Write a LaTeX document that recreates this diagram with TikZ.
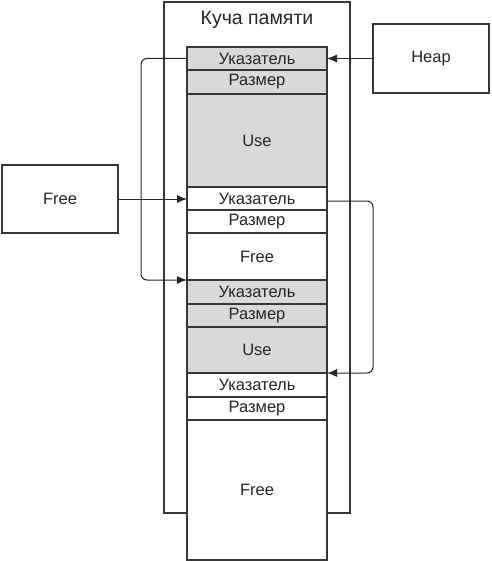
\documentclass[tikz,border=0pt]{standalone}
\usepackage{fontspec}
\setmainfont{Liberation Sans}
\usetikzlibrary{arrows.meta}
\definecolor{cellgray}{RGB}{217,217,217}
\definecolor{linegray}{RGB}{55,55,55}
\begin{document}
\begin{tikzpicture}[x=1pt,y=-1pt,
  cell/.style={draw=linegray,line width=1.2pt,minimum width=140pt,inner sep=0pt,outer sep=0pt,font=\fontsize{16.5}{18}\selectfont,text=black!85},
  used/.style={cell,fill=cellgray},
  freec/.style={cell,fill=white},
  sidebox/.style={draw=linegray,line width=1.2pt,fill=white,inner sep=0pt,outer sep=0pt,font=\fontsize{16.5}{18}\selectfont,text=black!85},
  link/.style={draw=black!85,line width=1pt,-{Latex[length=10pt,width=8pt]},rounded corners=6pt}]
\useasboundingbox (0,0) rectangle (491,561);
\fill[white] (0,0) rectangle (491,561);
% outer heap box
\node[draw=linegray,line width=1.2pt,minimum width=186pt,minimum height=511pt,inner sep=0pt,outer sep=0pt] (heapbox) at (257,257.5) {};
\node[font=\fontsize{19.5}{21}\selectfont,text=black!85] (title) at (257,20) {Куча памяти};
% column
\node[used,minimum height=23pt] (p1) at (257,58.5) {Указатель};
\node[used,minimum height=24pt] (s1) at (257,82) {Размер};
\node[used,minimum height=93pt] (u1) at (257,140.5) {Use};
\node[freec,minimum height=23pt] (p2) at (257,198.5) {Указатель};
\node[freec,minimum height=23pt] (s2) at (257,221.5) {Размер};
\node[freec,minimum height=47pt] (f1) at (257,256.5) {Free};
\node[used,minimum height=24pt] (p3) at (257,292) {Указатель};
\node[used,minimum height=23pt] (s3) at (257,315.5) {Размер};
\node[used,minimum height=46pt] (u2) at (257,350) {Use};
\node[freec,minimum height=24pt] (p4) at (257,385) {Указатель};
\node[freec,minimum height=23pt] (s4) at (257,408.5) {Размер};
\node[freec,minimum height=140pt] (f2) at (257,490) {Free};
% side boxes
\node[sidebox,minimum width=116pt,minimum height=69pt] (heap) at (431,58.5) {Heap};
\node[sidebox,minimum width=116pt,minimum height=68pt] (free) at (60,199) {Free};
% connectors
\coordinate (lc1) at (141,58.5);
\coordinate (lc2) at (141,280);
\coordinate (rc1) at (373,201);
\coordinate (rc2) at (373,373);
\draw[link] (heap.west) -- (heap.west -| p1.east);
\draw[link] (free.east) -- (free.east -| p2.west);
\draw[link] (p1.west) -- (lc1) -- (lc2) -- (p3.north west);
\draw[link] (p2.east |- rc1) -- (rc1) -- (rc2) -- (p4.north east);
\end{tikzpicture}
\end{document}
